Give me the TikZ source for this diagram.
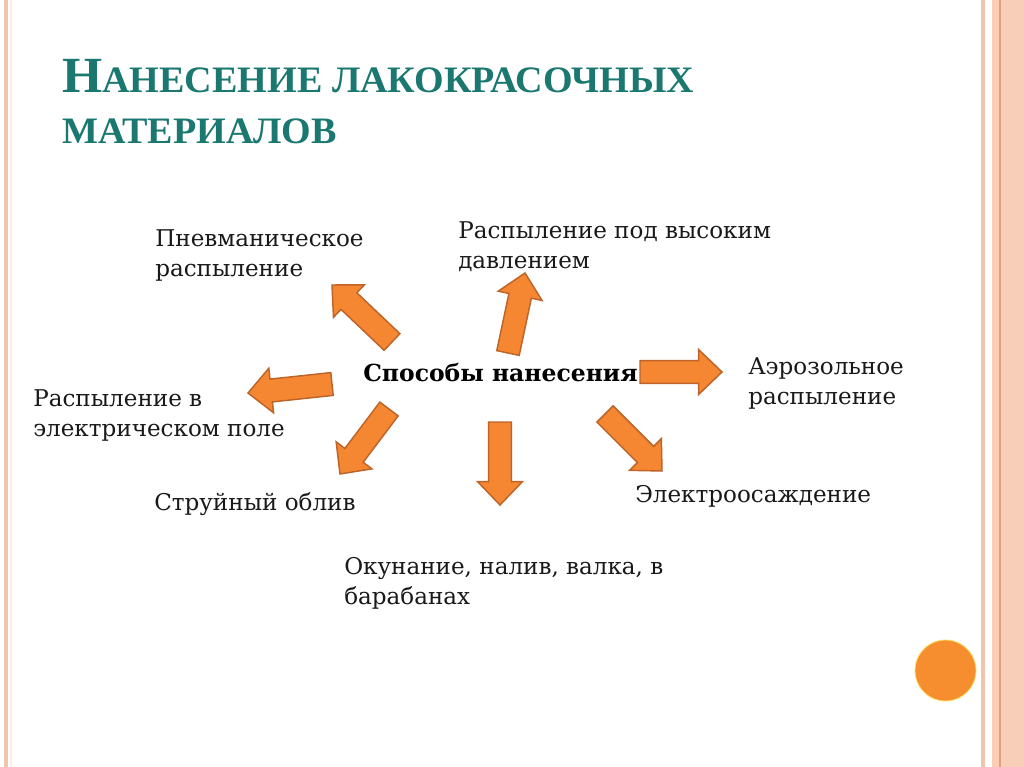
\documentclass[tikz,border=0pt]{standalone}
\usepackage{fontspec}
\usepackage{tikz}
\usetikzlibrary{calc}
\newfontfamily\bodyfont{DejaVu Serif}
\newfontfamily\titlefont[FakeStretch=1.02]{Liberation Serif}
\definecolor{titleteal}{RGB}{26,120,113}
\definecolor{arroworange}{RGB}{245,135,50}
\definecolor{arrowedge}{RGB}{190,100,40}
\definecolor{stripepeach}{RGB}{243,196,172}
\definecolor{bandpeach}{RGB}{248,206,184}
\definecolor{banddark}{RGB}{226,160,122}

% блочная стрелка: от хвоста #1 к острию #2
\newcommand{\blockarrow}[2]{%
  \coordinate (hb) at ($(#2)!\headlen!(#1)$);
  \draw[arrowbody] ($(#1)!\shaftw!90:(#2)$) -- ($(hb)!\shaftw!90:(#2)$)
    -- ($(hb)!\headw!90:(#2)$) -- (#2) -- ($(hb)!\headw!-90:(#2)$)
    -- ($(hb)!\shaftw!-90:(#2)$) -- ($(#1)!\shaftw!-90:(#2)$) -- cycle;}

\begin{document}
\begin{tikzpicture}[x=0.75pt,y=-0.75pt,
    arrowbody/.style={fill=arroworange,draw=arrowedge,line width=1.1pt,line join=miter},
    methodtext/.style={inner sep=0pt,align=left,font=\bodyfont\fontsize{17.3}{22}\selectfont,text=black!90}]
    % размеры стрелок
    \def\shaftw{8.6pt}
    \def\headw{16.8pt}
    \def\headlen{17.5pt}

    \useasboundingbox[fill=white] (0,0) rectangle (1024,767);

    % рамка слайда
    \fill[stripepeach] (4,0) rectangle (8,767);
    \fill[stripepeach!30] (10,0) rectangle (12,767);
    \fill[stripepeach] (981,0) rectangle (985,767);
    \fill[bandpeach] (992,0) rectangle (1024,767);
    \draw[banddark,line width=0.8pt] (1000,0) -- (1000,767);

    % заголовок (anchor=base -- по последней строке)
    \node[inner sep=0pt,anchor=base west,align=left,text=titleteal,
        font=\titlefont\bfseries\fontsize{28}{38}\selectfont] (title) at (62,143)
        {{\fontsize{38}{38}\selectfont Н}АНЕСЕНИЕ ЛАКОКРАСОЧНЫХ\\МАТЕРИАЛОВ};

    % центр
    \node[inner sep=0pt,anchor=base west,font=\bodyfont\bfseries\fontsize{17.6}{22}\selectfont] (center) at (363,381) {Способы нанесения};

    % способы
    \node[methodtext,anchor=base west] (pnevm) at (155,276) {Пневманическое\\распыление};
    \node[methodtext,anchor=base west] (davl) at (458,268) {Распыление под высоким\\давлением};
    \node[methodtext,anchor=base west] (aero) at (748,404) {Аэрозольное\\распыление};
    \node[methodtext,anchor=base west] (elpole) at (33,436) {Распыление в\\электрическом поле};
    \node[methodtext,anchor=base west] (elos) at (635,502) {Электроосаждение};
    \node[methodtext,anchor=base west] (strui) at (154,510) {Струйный облив};
    \node[methodtext,anchor=base west] (okun) at (344,604) {Окунание, налив, валка, в\\барабанах};

    % стрелки
    \coordinate (pnevmT) at (392,342);  \coordinate (pnevmH) at (332,285);
    \coordinate (davlT) at (508,353);   \coordinate (davlH) at (525,273);
    \coordinate (aeroT) at (640,372);   \coordinate (aeroH) at (722,372);
    \coordinate (elosT) at (605,414);   \coordinate (elosH) at (662,471);
    \coordinate (okunT) at (500,422);   \coordinate (okunH) at (500,505);
    \coordinate (struiT) at (389,409);  \coordinate (struiH) at (340,474);
    \coordinate (elpoleT) at (332,384); \coordinate (elpoleH) at (248,393);
    \blockarrow{pnevmT}{pnevmH}
    \blockarrow{davlT}{davlH}
    \blockarrow{aeroT}{aeroH}
    \blockarrow{elosT}{elosH}
    \blockarrow{okunT}{okunH}
    \blockarrow{struiT}{struiH}
    \blockarrow{elpoleT}{elpoleH}

    % кружок внизу справа
    \fill[arroworange!95!yellow,draw=orange!40!yellow!60,line width=0.6pt] (945.5,670.5) circle (30.5);
\end{tikzpicture}
\end{document}
